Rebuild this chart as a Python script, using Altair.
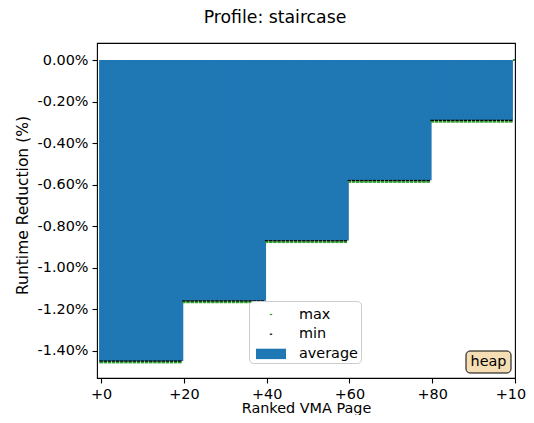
import altair as alt
import pandas as pd

# ---- text ----
title_text = "Profile: staircase"
x_title = "Ranked VMA Page"
y_title = "Runtime Reduction (%)"
annotation = "heap"

# ---- legend series ----
series_names = ["max", "min", "average"]
series_colors = ["#2ca02c", "#000000", "#1f77b4"]

# ---- data ----
seg_start = [0, 20, 40, 60, 80]
seg_end = [20, 40, 60, 80, 100]
seg_avg = [-1.450, -1.160, -0.870, -0.580, -0.290]
seg_min = [-1.452, -1.162, -0.872, -0.582, -0.292]
seg_max = [-1.458, -1.168, -0.878, -0.588, -0.298]
last_page = 100
last_value = 0.0

x_ticks = [0, 20, 40, 60, 80, 100]
y_ticks = [0.0, -0.2, -0.4, -0.6, -0.8, -1.0, -1.2, -1.4]

# ---- tables ----
pages, avg, vmin, vmax = [], [], [], []
for s, e, a, mn, mx in zip(seg_start, seg_end, seg_avg, seg_min, seg_max):
    for p in range(s, e):
        pages.append(p)
        avg.append(a)
        vmin.append(mn)
        vmax.append(mx)
bar_df = pd.DataFrame({"page": pages, "avg": avg})

marker_rows = []
for p, mn, mx in zip(pages + [last_page], vmin + [last_value], vmax + [last_value]):
    marker_rows.append({"page": p, "value": mn, "series": "min"})
    marker_rows.append({"page": p, "value": mx, "series": "max"})
marker_df = pd.DataFrame(marker_rows)

dash = "M-0.12,-0.06H0.12V0.06H-0.12Z"
patch = "M-1.5,-0.52H1.5V0.52H-1.5Z"
series_shapes = [dash, dash, patch]

xscale = alt.Scale(domain=[-1, 100], nice=False, zero=False)
yscale = alt.Scale(domain=[-1.5325, 0.082], nice=False, zero=False)

xaxis = alt.Axis(values=x_ticks, labelExpr="'+' + datum.value", grid=False,
                 labelFlush=False, labelOverlap=False, title=x_title)
yaxis = alt.Axis(values=y_ticks, grid=False, labelOverlap=False,
                 labelExpr="(datum.value < 0 ? '-' : '') + format(abs(datum.value), '.2f') + '%'",
                 title=y_title, titleFontSize=15.5, titleY=162, titlePadding=6.5)

bars = (
    alt.Chart(bar_df)
    .transform_calculate(x0="datum.page - 0.5", x1="min(datum.page + 0.85, 99.5)")
    .mark_rect(color="#1f77b4")
    .encode(
        x=alt.X("x0:Q", scale=xscale, axis=xaxis),
        x2="x1:Q",
        y=alt.Y("avg:Q", scale=yscale, axis=yaxis),
        y2=alt.datum(0),
    )
)

legend = alt.Legend(
    orient="none", legendX=152, legendY=258,
    symbolSize=400, symbolOffset=8.5, labelOffset=17,
    labelFontSize=14.4, labelFont="DejaVu Sans", labelColor="#000000",
    rowPadding=1.7, padding=2.5,
    strokeColor="#cccccc", fillColor="#ffffff", cornerRadius=4,
)

markers = (
    alt.Chart(marker_df)
    .mark_point(filled=True, size=850, opacity=1, clip=True)
    .encode(
        x=alt.X("page:Q", scale=xscale, axis=xaxis),
        y=alt.Y("value:Q", scale=yscale, axis=yaxis),
        color=alt.Color("series:N", scale=alt.Scale(domain=series_names, range=series_colors),
                        legend=legend, title=None),
        shape=alt.Shape("series:N", scale=alt.Scale(domain=series_names, range=series_shapes),
                        legend=legend, title=None),
    )
)

note_df = pd.DataFrame({"label": [annotation]})
note_box = alt.Chart(note_df).mark_rect(
    fill="#f5deb3", stroke="#000000", strokeWidth=1, cornerRadius=4
).encode(x=alt.value(369), x2=alt.value(414), y=alt.value(308), y2=alt.value(330))
note_text = alt.Chart(note_df).mark_text(
    font="DejaVu Sans", fontSize=14.4, color="#000000", align="center", baseline="middle"
).encode(x=alt.value(391.5), y=alt.value(319), text="label:N")

chart = (
    alt.layer(bars, markers, note_box, note_text)
    .properties(
        width=418, height=335,
        title=alt.TitleParams(title_text, fontSize=17.3, fontWeight="normal",
                              font="DejaVu Sans", color="#000000", anchor="middle",
                              dx=-31, offset=17),
        autosize=alt.AutoSizeParams(type="none"),
        padding={"left": 89, "top": 35, "right": 11, "bottom": 37},
    )
    .configure_view(stroke="#000000", strokeWidth=1.1)
    .configure_axis(
        domain=False, tickColor="#000000", tickSize=5, tickWidth=1.1,
        labelFont="DejaVu Sans", labelFontSize=14.4, labelColor="#000000", labelPadding=4,
        titleFont="DejaVu Sans", titleFontSize=14.4, titleFontWeight="normal", titleColor="#000000",
    )
    .configure_axisX(titlePadding=1.5)
)

chart.save("out.html", embed_options={"renderer": "svg", "actions": False})
